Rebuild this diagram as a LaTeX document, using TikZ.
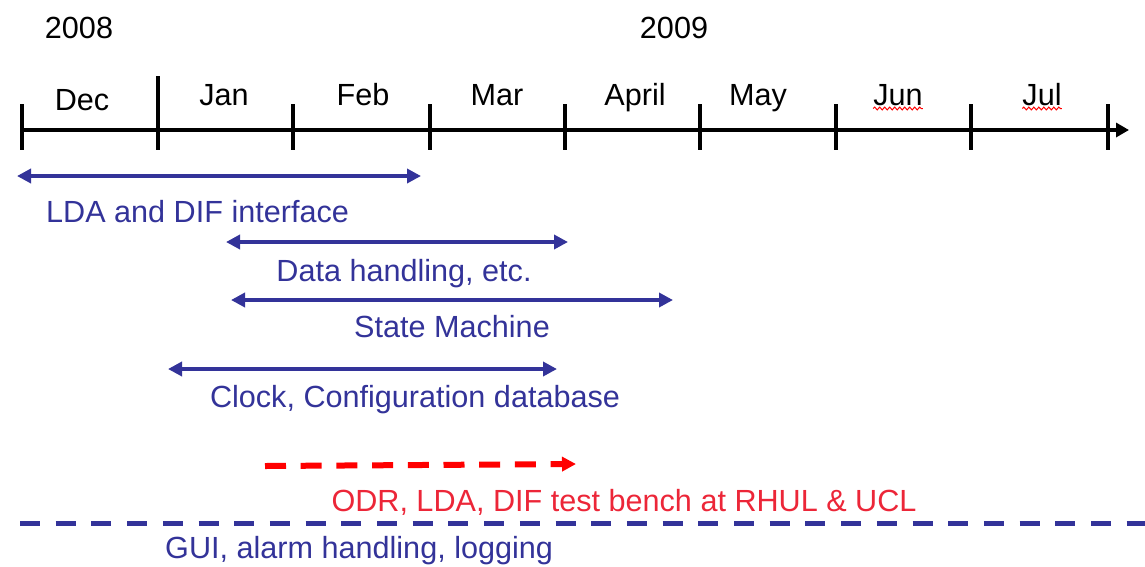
\documentclass[tikz,border=0pt]{standalone}
\usepackage{fontspec}
\setmainfont{Liberation Sans}
\usetikzlibrary{arrows.meta,decorations.pathmorphing}
\definecolor{tlblue}{RGB}{51,51,153}
\definecolor{tlred}{RGB}{255,0,0}
\definecolor{tlredtext}{RGB}{236,38,56}
\begin{document}
\begin{tikzpicture}[x=1pt,y=-1pt,
  lbl/.style={font=\fontsize{30.6}{36}\selectfont, inner sep=0pt, anchor=base},
  axisline/.style={line width=4.2pt, black},
  tickline/.style={line width=4.2pt, black},
  spanarrow/.style={tlblue, line width=3.6pt, {Triangle[length=14pt,width=14pt]}-{Triangle[length=14pt,width=14pt]}},
  redarrow/.style={tlred, line width=6pt, dash pattern=on 21pt off 14.7pt, -{Triangle[length=14pt,width=14pt]}},
  bluedash/.style={tlblue, line width=5pt, dash pattern=on 20pt off 15.7pt},
  squiggle/.style={red, line width=1pt, decorate, decoration={snake, amplitude=1.4pt, segment length=5pt}},
]
\useasboundingbox (0,0) rectangle (1145,566);

% axis
\coordinate (axL) at (22,130);
\coordinate (axR) at (1129,130);
\draw[axisline,-{Triangle[length=13pt,width=14pt]}] (axL) -- (axR);
\foreach \x/\n in {22/t0,293/t2,430/t3,565/t4,700/t5,836/t6,971/t7,1108/t8}{
  \coordinate (\n top) at (\x,104);
  \coordinate (\n bot) at (\x,150);
  \draw[tickline] (\n top) -- (\n bot);
}
\coordinate (t1top) at (158,76);
\coordinate (t1bot) at (158,150);
\draw[tickline] (t1top) -- (t1bot);

% years
\node[lbl] (y2008) at (79,38) {2008};
\node[lbl] (y2009) at (674,38) {2009};

% months
\node[lbl] (mDec) at (82,110) {Dec};
\node[lbl] (mJan) at (224,105) {Jan};
\node[lbl] (mFeb) at (363,105) {Feb};
\node[lbl] (mMar) at (497,105) {Mar};
\node[lbl] (mApr) at (635,105) {April};
\node[lbl] (mMay) at (758,105) {May};
\node[lbl] (mJun) at (898,105) {Jun};
\node[lbl] (mJul) at (1042,105) {Jul};
\draw[squiggle] ([yshift=-3pt]mJun.south west) -- ([yshift=-3pt]mJun.south east);
\draw[squiggle] ([yshift=-3pt]mJul.south west) -- ([yshift=-3pt]mJul.south east);

% LDA and DIF interface
\coordinate (a1L) at (17,176);
\coordinate (a1R) at (421,176);
\draw[spanarrow] (a1L) -- (a1R);
\node[lbl, anchor=base west, tlblue] (l1) at (46,222) {LDA and DIF interface};

% Data handling
\coordinate (a2L) at (226,242);
\coordinate (a2R) at (568,242);
\draw[spanarrow] (a2L) -- (a2R);
\node[lbl, tlblue] (l2) at (404,281) {Data handling, etc.};

% State machine
\coordinate (a3L) at (231,300);
\coordinate (a3R) at (673,300);
\draw[spanarrow] (a3L) -- (a3R);
\node[lbl, tlblue] (l3) at (452,337) {State Machine};

% Clock
\coordinate (a4L) at (168,369);
\coordinate (a4R) at (557,369);
\draw[spanarrow] (a4L) -- (a4R);
\node[lbl, tlblue] (l4) at (415,407) {Clock, Configuration database};

% red dashed
\coordinate (rL) at (265,466);
\coordinate (rR) at (576,464);
\draw[redarrow] (rL) -- (rR);
\node[lbl, tlredtext] (l5) at (624,511) {ODR, LDA, DIF test bench at RHUL \& UCL};

% blue dashed
\coordinate (bL) at (20,523);
\coordinate (bR) at (1145,523);
\draw[bluedash] (bL) -- (bR);
\node[lbl, anchor=base west, tlblue] (l6) at (165,558) {GUI, alarm handling, logging};
\end{tikzpicture}
\end{document}
